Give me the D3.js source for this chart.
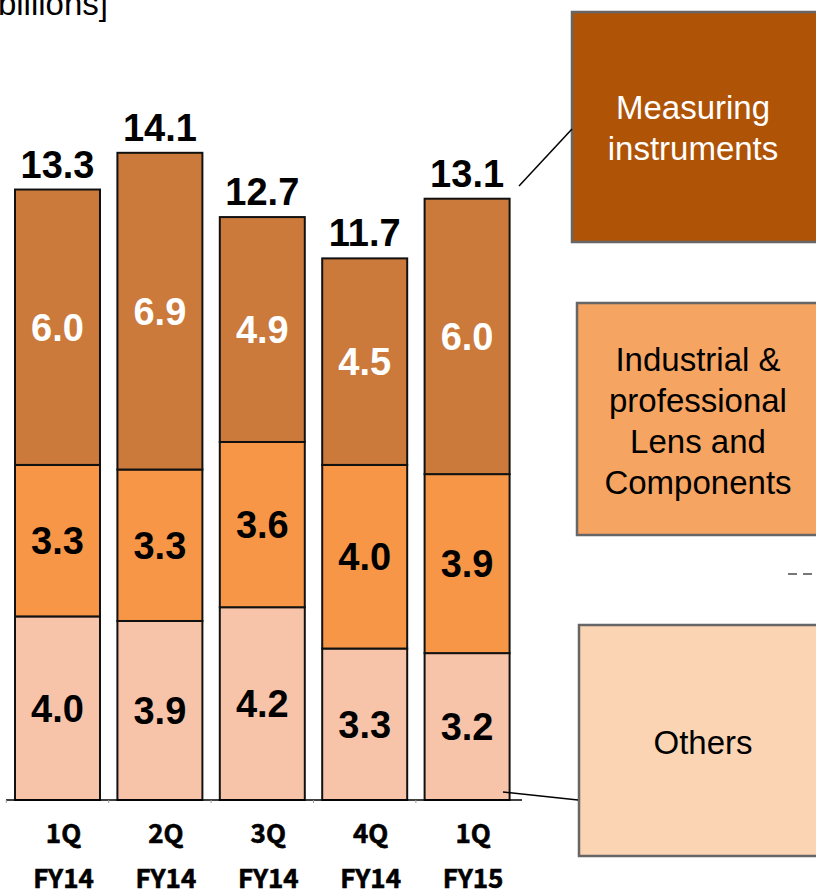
<!DOCTYPE html>
<html>
<head>
<meta charset="utf-8">
<script src="https://cdn.jsdelivr.net/npm/d3@7"></script>
<style>
  html, body { margin: 0; padding: 0; background: #fff; }
  svg { display: block; }
</style>
</head>
<body>
<svg id="chart" width="816" height="891"></svg>
<script>
// ---- data ----
const quarters = ["1Q", "2Q", "3Q", "4Q", "1Q"];
const years = ["FY14", "FY14", "FY14", "FY14", "FY15"];
const others = [4.0, 3.9, 4.2, 3.3, 3.2];
const industrial = [3.3, 3.3, 3.6, 4.0, 3.9];
const measuring = [6.0, 6.9, 4.9, 4.5, 6.0];
const totals = [13.3, 14.1, 12.7, 11.7, 13.1];
const seriesKeys = ["others", "industrial", "measuring"];
const legendLines = {
  measuring: ["Measuring", "instruments"],
  industrial: ["Industrial &", "professional", "Lens and", "Components"],
  others: ["Others"]
};
const unitLabel = "[JPY billions]";

// ---- styles ----
const barColors = { others: "#F8C4A9", industrial: "#F79646", measuring: "#CB7A3B" };
const legendColors = { others: "#FBD4B4", industrial: "#F6A461", measuring: "#AF5407" };
const labelColors = { others: "#000", industrial: "#000", measuring: "#fff" };

const svg = d3.select("#chart");
const rows = quarters.map((q, i) => ({
  key: i, others: others[i], industrial: industrial[i], measuring: measuring[i], total: totals[i]
}));

const x = d3.scaleBand().domain(rows.map(d => d.key)).range([6.3, 518.3])
  .paddingInner(0.17).paddingOuter(0.085);
const y = d3.scaleLinear().domain([0, 15]).range([800, 111.5]);

const stacked = d3.stack().keys(seriesKeys)(rows);

// unit label (partially off-canvas as in the reference)
svg.append("text").attr("x", 108).attr("y", 15).attr("text-anchor", "end")
  .attr("font-family", "Liberation Sans, Arial, sans-serif").attr("font-size", 33)
  .attr("fill", "#000").text(unitLabel);

// bars
const layers = svg.append("g").selectAll("g").data(stacked).join("g");
layers.selectAll("rect").data(s => s.map(d => ({ d, key: s.key }))).join("rect")
  .attr("x", o => x(o.d.data.key))
  .attr("y", o => y(o.d[1]))
  .attr("width", x.bandwidth())
  .attr("height", o => y(o.d[0]) - y(o.d[1]))
  .attr("fill", o => barColors[o.key])
  .attr("stroke", "#111").attr("stroke-width", 2);

// segment labels
layers.selectAll("text").data(s => s.map(d => ({ d, key: s.key }))).join("text")
  .attr("x", o => x(o.d.data.key) + x.bandwidth() / 2)
  .attr("y", o => (y(o.d[0]) + y(o.d[1])) / 2)
  .attr("dy", "0.36em")
  .attr("text-anchor", "middle")
  .attr("font-family", "Liberation Sans, Arial, sans-serif")
  .attr("font-weight", "bold").attr("font-size", 38)
  .attr("fill", o => labelColors[o.key])
  .text(o => d3.format(".1f")(o.d[1] - o.d[0]));

// totals
svg.append("g").selectAll("text").data(rows).join("text")
  .attr("x", d => x(d.key) + x.bandwidth() / 2)
  .attr("y", d => y(d.others + d.industrial + d.measuring) - 12)
  .attr("text-anchor", "middle")
  .attr("font-family", "Liberation Sans, Arial, sans-serif")
  .attr("font-weight", "bold").attr("font-size", 38)
  .attr("fill", "#000")
  .text(d => d3.format(".1f")(d.total));

// baseline axis
svg.append("line").attr("x1", 6).attr("x2", 522).attr("y1", y(0)).attr("y2", y(0))
  .attr("stroke", "#000").attr("stroke-width", 1.5);
svg.append("g").selectAll("line").data(rows).join("line")
  .attr("x1", d => x(d.key) - (x.step() - x.bandwidth()) / 2)
  .attr("x2", d => x(d.key) - (x.step() - x.bandwidth()) / 2)
  .attr("y1", y(0)).attr("y2", y(0) + 3)
  .attr("stroke", "#999").attr("stroke-width", 1);

// category labels
const cat = svg.append("g").attr("font-family", "Noto Sans CJK JP, sans-serif")
  .attr("font-weight", "bold").attr("font-size", 26).attr("fill", "#000")
  .attr("stroke", "#000").attr("stroke-width", 0.6)
  .attr("text-anchor", "middle");
cat.selectAll("text.q").data(rows).join("text").attr("class", "q")
  .attr("x", d => x(d.key) + x.bandwidth() / 2 + 6).attr("y", 843)
  .text(d => quarters[d.key]);
cat.selectAll("text.fy").data(rows).join("text").attr("class", "fy")
  .attr("x", d => x(d.key) + x.bandwidth() / 2 + 6).attr("y", 888)
  .text(d => years[d.key]);

// legend boxes
const boxes = [
  { key: "measuring", x: 572, y: 12, h: 230, cx: 693, cy: 128, color: "#fff" },
  { key: "industrial", x: 577, y: 303, h: 232, cx: 698, cy: 421, color: "#000" },
  { key: "others", x: 579, y: 625, h: 231, cx: 703, cy: 742, color: "#000" }
];
const lg = svg.append("g");
boxes.forEach(b => {
  lg.append("rect").attr("x", b.x).attr("y", b.y).attr("width", 260).attr("height", b.h)
    .attr("fill", legendColors[b.key]).attr("stroke", "#666").attr("stroke-width", 2.5);
  const lines = legendLines[b.key];
  const lh = 41;
  const t = lg.append("text").attr("text-anchor", "middle")
    .attr("font-family", "Liberation Sans, Arial, sans-serif").attr("font-size", 33)
    .attr("fill", b.color);
  lines.forEach((ln, i) => {
    t.append("tspan").attr("x", b.cx)
      .attr("y", b.cy + (i - (lines.length - 1) / 2) * lh)
      .attr("dy", "0.36em").text(ln);
  });
});

// leader lines
svg.append("line").attr("x1", 519).attr("y1", 186).attr("x2", 572).attr("y2", 129)
  .attr("stroke", "#000").attr("stroke-width", 1.5);
svg.append("line").attr("x1", 503).attr("y1", 792).attr("x2", 578).attr("y2", 800)
  .attr("stroke", "#000").attr("stroke-width", 1.5);
svg.append("line").attr("x1", 788).attr("y1", 574).attr("x2", 816).attr("y2", 574)
  .attr("stroke", "#777").attr("stroke-width", 2).attr("stroke-dasharray", "9,6");
</script>
</body>
</html>
